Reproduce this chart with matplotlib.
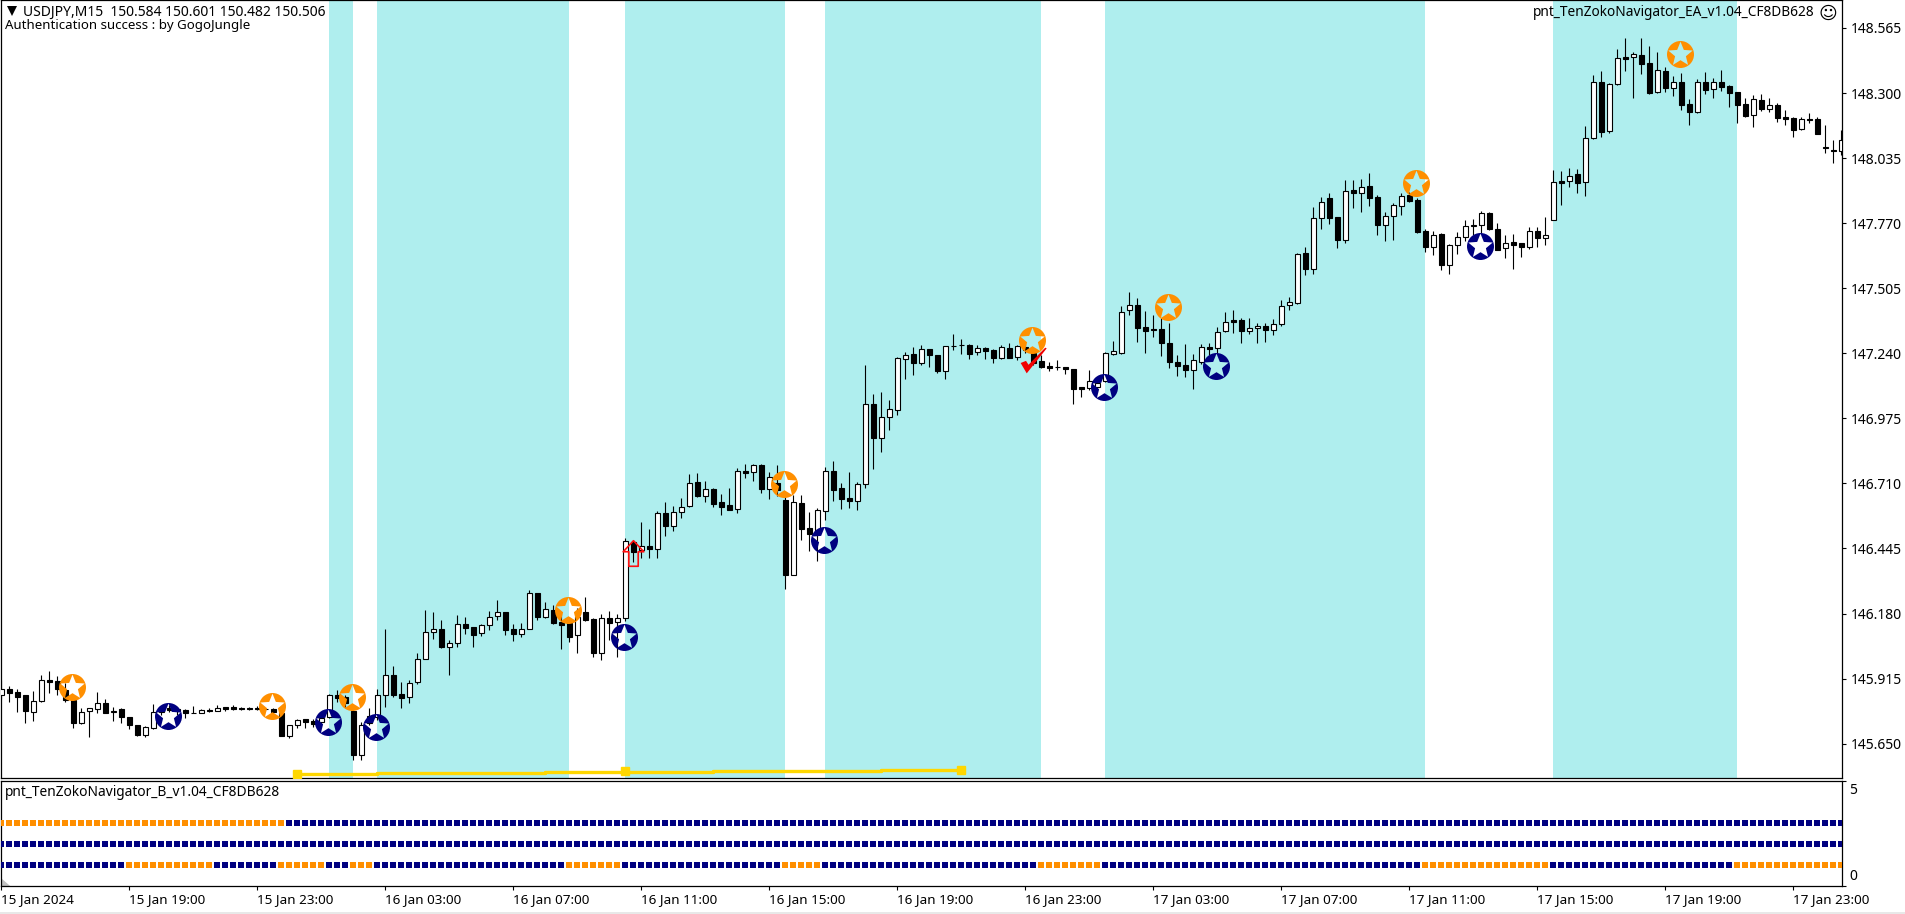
import numpy as np
import matplotlib
matplotlib.use('Agg')
import matplotlib.pyplot as plt
from matplotlib.path import Path
from matplotlib.patches import Rectangle

plt.rcParams['font.family'] = ['Noto Sans', 'DejaVu Sans']

# W = vela alcista, B = vela bajista
direction = ("WBBBWWBBBB" "WWWBWBBBWW" "WBBBBWBWBB" "BBBBBBWWBB" "WWBBBWWWWB"
             "BWWWWBWWBB" "WWWBBWWBWB" "BBWBBWBWWB" "WBWBWWWBWB" "BBWBWBWBBW"
             "BBWWBBBWWB" "WWWWBWBBWB" "BBWBBWBWBB" "BBBBBBWWWW" "WWBBBBBBBW"
             "WBWWBBWWBW" "WWWBWWBBWB" "WBBWWWBBBW" "BWWWWWBBWB" "BWBWWBWBWW"
             "BWWBWBBWBW" "BBWBWBBBBW" "BWBBBWBBBB" "W")

body_top = [
    145.871, 145.871, 145.860, 145.847, 145.822, 145.908, 145.908, 145.904, 145.868, 145.828,
    145.781, 145.794, 145.814, 145.814, 145.785, 145.790, 145.757, 145.728, 145.716, 145.781,
    145.790, 145.794, 145.790, 145.787, 145.776, 145.787, 145.786, 145.795, 145.798, 145.798,
    145.794, 145.794, 145.794, 145.791, 145.790, 145.773, 145.728, 145.745, 145.749, 145.742,
    145.753, 145.847, 145.847, 145.841, 145.783, 145.728, 145.762, 145.847, 145.928, 145.928,
    145.851, 145.898, 145.996, 146.103, 146.118, 146.116, 146.059, 146.136, 146.136, 146.124,
    146.132, 146.167, 146.185, 146.185, 146.116, 146.118, 146.262, 146.262, 146.197, 146.194,
    146.147, 146.140, 146.167, 146.185, 146.156, 146.160, 146.160, 146.160, 146.474, 146.470,
    146.455, 146.455, 146.588, 146.588, 146.592, 146.615, 146.710, 146.715, 146.686, 146.686,
    146.633, 146.621, 146.759, 146.759, 146.784, 146.784, 146.735, 146.710, 146.643, 146.633,
    146.629, 146.527, 146.602, 146.759, 146.759, 146.690, 146.649, 146.706, 147.032, 147.032,
    146.982, 147.012, 147.219, 147.232, 147.236, 147.256, 147.256, 147.232, 147.268, 147.271,
    147.274, 147.272, 147.260, 147.260, 147.253, 147.264, 147.260, 147.268, 147.267, 147.240,
    147.207, 147.190, 147.186, 147.184, 147.175, 147.103, 147.126, 147.118, 147.240, 147.248,
    147.407, 147.435, 147.437, 147.346, 147.338, 147.339, 147.281, 147.205, 147.191, 147.211,
    147.264, 147.264, 147.328, 147.369, 147.376, 147.376, 147.342, 147.350, 147.351, 147.359,
    147.431, 147.448, 147.643, 147.647, 147.792, 147.855, 147.871, 147.794, 147.902, 147.905,
    147.919, 147.921, 147.877, 147.798, 147.843, 147.879, 147.883, 147.864, 147.737, 147.723,
    147.724, 147.682, 147.712, 147.757, 147.764, 147.810, 147.810, 147.745, 147.691, 147.692,
    147.688, 147.737, 147.737, 147.720, 147.936, 147.942, 147.963, 147.969, 148.116, 148.344,
    148.345, 148.335, 148.441, 148.445, 148.458, 148.454, 148.421, 148.393, 148.388, 148.344,
    148.344, 148.254, 148.344, 148.344, 148.344, 148.344, 148.329, 148.303, 148.254, 148.274,
    148.272, 148.250, 148.251, 148.201, 148.198, 148.193, 148.194, 148.193, 148.079, 148.069,
    148.107]

body_bot = [
    145.848, 145.857, 145.841, 145.784, 145.781, 145.825, 145.902, 145.874, 145.828, 145.735,
    145.735, 145.784, 145.790, 145.776, 145.777, 145.760, 145.727, 145.685, 145.685, 145.715,
    145.779, 145.787, 145.783, 145.776, 145.773, 145.776, 145.784, 145.784, 145.792, 145.792,
    145.793, 145.793, 145.793, 145.790, 145.780, 145.682, 145.682, 145.728, 145.737, 145.730,
    145.738, 145.757, 145.838, 145.814, 145.604, 145.605, 145.733, 145.757, 145.847, 145.850,
    145.837, 145.839, 145.903, 145.996, 146.103, 146.045, 146.045, 146.059, 146.122, 146.094,
    146.099, 146.132, 146.169, 146.114, 146.095, 146.095, 146.116, 146.167, 146.167, 146.143,
    146.133, 146.086, 146.091, 146.154, 146.018, 146.018, 146.143, 146.147, 146.161, 146.432,
    146.439, 146.442, 146.442, 146.538, 146.538, 146.592, 146.617, 146.659, 146.660, 146.628,
    146.615, 146.603, 146.605, 146.754, 146.755, 146.686, 146.686, 146.683, 146.339, 146.339,
    146.524, 146.505, 146.507, 146.599, 146.683, 146.648, 146.640, 146.640, 146.706, 146.896,
    146.896, 146.982, 147.010, 147.218, 147.202, 147.202, 147.234, 147.168, 147.169, 147.268,
    147.273, 147.238, 147.244, 147.251, 147.222, 147.222, 147.222, 147.224, 147.253, 147.199,
    147.185, 147.181, 147.185, 147.177, 147.096, 147.096, 147.100, 147.104, 147.126, 147.238,
    147.243, 147.415, 147.344, 147.332, 147.335, 147.283, 147.206, 147.190, 147.173, 147.173,
    147.206, 147.257, 147.260, 147.329, 147.369, 147.332, 147.332, 147.342, 147.335, 147.336,
    147.358, 147.435, 147.446, 147.582, 147.582, 147.792, 147.791, 147.703, 147.703, 147.894,
    147.891, 147.874, 147.764, 147.764, 147.798, 147.840, 147.862, 147.735, 147.674, 147.674,
    147.601, 147.601, 147.682, 147.712, 147.757, 147.764, 147.746, 147.662, 147.667, 147.682,
    147.672, 147.672, 147.708, 147.708, 147.783, 147.935, 147.940, 147.932, 147.936, 148.116,
    148.143, 148.147, 148.335, 148.440, 148.445, 148.420, 148.300, 148.303, 148.322, 148.322,
    148.253, 148.224, 148.221, 148.314, 148.315, 148.326, 148.302, 148.253, 148.208, 148.209,
    148.236, 148.236, 148.197, 148.196, 148.151, 148.152, 148.192, 148.135, 148.075, 148.065,
    148.065]

highs = [
    145.909, 145.885, 145.871, 145.847, 145.864, 145.929, 145.946, 145.925, 145.898, 145.841,
    145.794, 145.795, 145.860, 145.830, 145.800, 145.795, 145.757, 145.728, 145.722, 145.811,
    145.800, 145.807, 145.800, 145.791, 145.803, 145.791, 145.794, 145.807, 145.798, 145.809,
    145.800, 145.800, 145.804, 145.797, 145.794, 145.780, 145.728, 145.750, 145.749, 145.752,
    145.760, 145.851, 145.868, 145.850, 145.794, 145.739, 145.794, 145.871, 146.116, 145.966,
    145.901, 145.909, 146.018, 146.194, 146.186, 146.154, 146.072, 146.174, 146.165, 146.124,
    146.137, 146.189, 146.235, 146.188, 146.137, 146.143, 146.276, 146.265, 146.227, 146.215,
    146.181, 146.167, 146.201, 146.246, 146.160, 146.177, 146.192, 146.177, 146.486, 146.480,
    146.552, 146.523, 146.598, 146.634, 146.618, 146.649, 146.747, 146.751, 146.720, 146.690,
    146.666, 146.690, 146.772, 146.789, 146.789, 146.788, 146.757, 146.785, 146.663, 146.663,
    146.663, 146.594, 146.609, 146.776, 146.801, 146.713, 146.755, 146.715, 147.192, 147.074,
    147.081, 147.050, 147.226, 147.247, 147.264, 147.274, 147.256, 147.232, 147.271, 147.319,
    147.297, 147.278, 147.274, 147.264, 147.256, 147.274, 147.281, 147.274, 147.281, 147.260,
    147.233, 147.203, 147.213, 147.186, 147.177, 147.103, 147.172, 147.145, 147.244, 147.289,
    147.433, 147.490, 147.465, 147.411, 147.396, 147.382, 147.362, 147.233, 147.277, 147.236,
    147.277, 147.283, 147.348, 147.407, 147.416, 147.382, 147.382, 147.365, 147.362, 147.378,
    147.457, 147.471, 147.647, 147.672, 147.836, 147.877, 147.894, 147.794, 147.946, 147.946,
    147.950, 147.973, 147.885, 147.815, 147.851, 147.892, 147.898, 147.871, 147.745, 147.738,
    147.729, 147.685, 147.734, 147.783, 147.787, 147.820, 147.817, 147.769, 147.722, 147.726,
    147.691, 147.753, 147.756, 147.796, 147.987, 147.981, 147.993, 147.991, 148.166, 148.373,
    148.390, 148.340, 148.478, 148.526, 148.469, 148.524, 148.492, 148.466, 148.407, 148.369,
    148.380, 148.276, 148.356, 148.386, 148.360, 148.393, 148.333, 148.306, 148.281, 148.292,
    148.296, 148.278, 148.258, 148.231, 148.201, 148.201, 148.217, 148.201, 148.170, 148.109,
    148.149]

lows = [
    145.830, 145.821, 145.780, 145.735, 145.743, 145.821, 145.855, 145.848, 145.821, 145.715,
    145.730, 145.678, 145.773, 145.773, 145.743, 145.735, 145.711, 145.682, 145.678, 145.711,
    145.767, 145.780, 145.767, 145.756, 145.773, 145.773, 145.777, 145.784, 145.785, 145.787,
    145.787, 145.787, 145.787, 145.785, 145.771, 145.682, 145.674, 145.712, 145.712, 145.716,
    145.732, 145.756, 145.821, 145.800, 145.583, 145.583, 145.726, 145.746, 145.801, 145.839,
    145.797, 145.817, 145.894, 145.996, 146.076, 146.038, 145.930, 146.045, 146.097, 146.045,
    146.090, 146.113, 146.154, 146.093, 146.068, 146.086, 146.116, 146.154, 146.160, 146.137,
    146.035, 146.065, 146.018, 146.151, 146.004, 145.991, 146.072, 146.002, 146.151, 146.389,
    146.405, 146.405, 146.408, 146.497, 146.518, 146.571, 146.615, 146.656, 146.636, 146.615,
    146.583, 146.602, 146.591, 146.734, 146.721, 146.670, 146.648, 146.660, 146.282, 146.336,
    146.480, 146.436, 146.396, 146.561, 146.640, 146.607, 146.611, 146.602, 146.693, 146.769,
    146.838, 146.927, 146.989, 147.135, 147.152, 147.192, 147.185, 147.161, 147.135, 147.253,
    147.236, 147.218, 147.233, 147.217, 147.202, 147.218, 147.222, 147.213, 147.240, 147.192,
    147.179, 147.169, 147.172, 147.156, 147.033, 147.063, 147.090, 147.090, 147.123, 147.233,
    147.236, 147.397, 147.287, 147.243, 147.308, 147.230, 147.181, 147.147, 147.142, 147.096,
    147.196, 147.233, 147.240, 147.328, 147.321, 147.283, 147.317, 147.283, 147.287, 147.314,
    147.353, 147.416, 147.442, 147.559, 147.563, 147.746, 147.767, 147.669, 147.691, 147.833,
    147.814, 147.840, 147.723, 147.699, 147.701, 147.803, 147.858, 147.729, 147.654, 147.640,
    147.579, 147.563, 147.644, 147.697, 147.722, 147.729, 147.742, 147.661, 147.629, 147.583,
    147.634, 147.666, 147.674, 147.681, 147.781, 147.844, 147.916, 147.894, 147.882, 148.111,
    148.120, 148.139, 148.333, 148.391, 148.281, 148.378, 148.296, 148.299, 148.306, 148.289,
    148.231, 148.170, 148.220, 148.295, 148.281, 148.307, 148.245, 148.179, 148.201, 148.163,
    148.228, 148.224, 148.181, 148.171, 148.122, 148.150, 148.179, 148.133, 148.057, 148.014,
    148.048]

# zonas sombreadas, en indice de vela
zone_starts = [41, 47, 78, 103, 138, 194]
zone_ends = [44, 71, 98, 130, 178, 217]

# estrellas: indice de vela y precio
orange_bars = [9, 34, 44, 71, 98, 129, 146, 177, 210]
orange_prices = [145.881, 145.803, 145.840, 146.194, 146.708, 147.294, 147.429, 147.934, 148.459]
blue_bars = [21, 41, 47, 78, 103, 138, 152, 185]
blue_prices = [145.763, 145.738, 145.718, 146.085, 146.480, 147.103, 147.188, 147.677]

# linea amarilla
yellow_bars = [37, 47, 68, 89, 110, 120]
yellow_prices = [145.527, 145.531, 145.535, 145.539, 145.543, 145.543]
yellow_marks = [37, 78, 120]

price_ticks = [148.565, 148.300, 148.035, 147.770, 147.505, 147.240,
               146.975, 146.710, 146.445, 146.180, 145.915, 145.650]
price_labels = ['148.565', '148.300', '148.035', '147.770', '147.505', '147.240',
                '146.975', '146.710', '146.445', '146.180', '145.915', '145.650']

time_labels = ['15 Jan 2024', '15 Jan 19:00', '15 Jan 23:00', '16 Jan 03:00', '16 Jan 07:00',
               '16 Jan 11:00', '16 Jan 15:00', '16 Jan 19:00', '16 Jan 23:00', '17 Jan 03:00',
               '17 Jan 07:00', '17 Jan 11:00', '17 Jan 15:00', '17 Jan 19:00', '17 Jan 23:00']
time_step = 16

# panel inferior: tramos naranjas (inicio, fin) de cada fila
row_levels = [3, 2, 1]
row_orange = [[(0, 35)], [],
              [(16, 26), (35, 40), (44, 46), (71, 77), (98, 102), (130, 137), (178, 193), (217, 230)]]

ORANGE = '#FF8F00'
NAVY = '#000080'
CYAN = '#AFEEEE'
W, H = 1905, 914
LEFT, RIGHT = 1, 1842


def star_marker(hole=0.95, inner=0.42):
    ang = np.pi / 2 + np.arange(10) * np.pi / 5
    rad = np.where(np.arange(10) % 2 == 0, hole, inner)
    pts = np.column_stack([rad * np.cos(ang), rad * np.sin(ang)])
    # sentido contrario al circulo para dejar el hueco
    pts = pts[::-1]
    star = Path(np.vstack([pts, pts[0]]), closed=True)
    return Path.make_compound_path(Path.unit_circle(), star)


def dibujar_velas(ax):
    n = len(direction)
    x = np.arange(n)
    top = np.array(body_top)
    bot = np.array(body_bot)
    ax.vlines(x, lows, highs, color='black', lw=0.8, zorder=3)
    colores = ['white' if d == 'W' else 'black' for d in direction]
    ax.bar(x, top - bot, 0.55, bottom=bot, color=colores, edgecolor='black', lw=0.8, zorder=4)


def dibujar_precio(ax):
    ax.set_xlim((LEFT - 1.33) / 8, (RIGHT - 1.33) / 8)
    ax.set_ylim(148.679 - 0.004073 * 778, 148.679)
    for a, b in zip(zone_starts, zone_ends):
        ax.axvspan(a, b, color=CYAN, lw=0, zorder=1)
    dibujar_velas(ax)

    ax.step(yellow_bars, yellow_prices, where='post', color='#FFD700', lw=2.4, zorder=5)
    marks = np.interp(yellow_marks, yellow_bars, yellow_prices)
    ax.plot(yellow_marks, marks, ls='', marker='s', ms=5.2, color='#FFD700', zorder=5)

    estrella = star_marker()
    ax.scatter(np.array(orange_bars) - 0.12, orange_prices, s=378, marker=estrella,
               color=ORANGE, linewidths=0, zorder=6)
    ax.scatter(np.array(blue_bars) - 0.12, blue_prices, s=378, marker=estrella,
               color=NAVY, linewidths=0, zorder=6)

    # flecha roja y marca de verificacion
    flecha = Path([(0, 12.75), (10.3, 1.75), (4.7, 1.75), (4.7, -12.75), (-4.7, -12.75),
                   (-4.7, 1.75), (-10.3, 1.75), (0, 12.75)], closed=True)
    ax.plot([79], [146.425], marker=flecha, ms=18.4, mfc='none', mec='#FF1010', mew=1.2, zorder=7)
    check = Path([(-36, -7), (-21, -1), (-14, -12), (33, 36), (37, 34), (-19, -36), (-36, -7)], closed=True)
    ax.plot([129], [147.213], marker=check, ms=19, mfc='#F00000', mec='none', mew=0, zorder=7)

    ax.yaxis.tick_right()
    ax.set_yticks(price_ticks)
    ax.set_yticklabels(price_labels, fontsize=10)
    ax.tick_params(axis='y', length=3, width=0.8, pad=3)
    ax.set_xticks([])

    ax.text(22 / (RIGHT - LEFT), 1 - 12 / 778, 'USDJPY,M15  150.584 150.601 150.482 150.506',
            transform=ax.transAxes, fontsize=10, va='center', ha='left', zorder=9)
    ax.text(4 / (RIGHT - LEFT), 1 - 25 / 778, 'Authentication success : by GogoJungle',
            transform=ax.transAxes, fontsize=9.55, va='center', ha='left', zorder=9)
    ax.plot([11 / (RIGHT - LEFT)], [1 - 11 / 778], transform=ax.transAxes, marker='v', ms=7,
            color='black', mew=0, zorder=9)
    ax.text((1815 - LEFT) / (RIGHT - LEFT), 1 - 13 / 778, 'pnt_TenZokoNavigator_EA_v1.04_CF8DB628',
            transform=ax.transAxes, fontsize=9.85, va='center', ha='right', zorder=9)
    ax.text((1828 - LEFT) / (RIGHT - LEFT), 1 - 14 / 778, '\u263a', family='DejaVu Sans',
            transform=ax.transAxes, fontsize=13, va='center', ha='center', zorder=9)


def dibujar_panel(ax):
    n = len(direction)
    x = np.arange(n)
    ax.set_xlim((LEFT - 1.33) / 8, (RIGHT - 1.33) / 8)
    ax.set_ylim(0, 5)
    for nivel, tramos in zip(row_levels, row_orange):
        colores = np.array([NAVY] * n, dtype=object)
        for a, b in tramos:
            colores[a:b + 1] = ORANGE
        ax.scatter(x, [nivel] * n, marker='s', s=18, c=list(colores), linewidths=0, zorder=3)

    ax.fill([(LEFT - 1.33) / 8, (LEFT - 1.33) / 8, 1.1], [0, 0.38, 0], color='#C0C0C0', lw=0)
    ax.text(4 / (RIGHT - LEFT), 1 - 11.5 / 105, 'pnt_TenZokoNavigator_B_v1.04_CF8DB628',
            transform=ax.transAxes, fontsize=9.9, va='center', ha='left')

    ax.yaxis.tick_right()
    ax.set_yticks([0, 5])
    ax.set_yticklabels([])
    xlab = (1849 - LEFT) / (RIGHT - LEFT)
    ax.text(xlab, (886 - 791) / 105, '5', transform=ax.transAxes, fontsize=10, va='center', ha='left')
    ax.text(xlab, (886 - 877) / 105, '0', transform=ax.transAxes, fontsize=10, va='center', ha='left')
    ax.tick_params(axis='y', length=3, width=0.8, pad=3)
    pos = np.arange(len(time_labels)) * time_step
    ax.set_xticks(pos)
    ax.set_xticklabels(time_labels, fontsize=9.7, ha='left')
    ax.tick_params(axis='x', length=3, width=0.8, pad=2)


if __name__ == '__main__':
    fig = plt.figure(figsize=(W / 100, H / 100), dpi=100, facecolor='white')
    ax1 = fig.add_axes([LEFT / W, 1 - 778 / H, (RIGHT - LEFT) / W, 778 / H])
    ax2 = fig.add_axes([LEFT / W, 1 - 886 / H, (RIGHT - LEFT) / W, 105 / H])
    for ax in (ax1, ax2):
        for s in ax.spines.values():
            s.set_linewidth(0.9)
    dibujar_precio(ax1)
    dibujar_panel(ax2)
    fig.add_artist(Rectangle((0, 0), 1, 2 / H, transform=fig.transFigure, color='#E8E8E8', lw=0))
    fig.savefig('out.png', dpi=100)
    plt.close('all')
